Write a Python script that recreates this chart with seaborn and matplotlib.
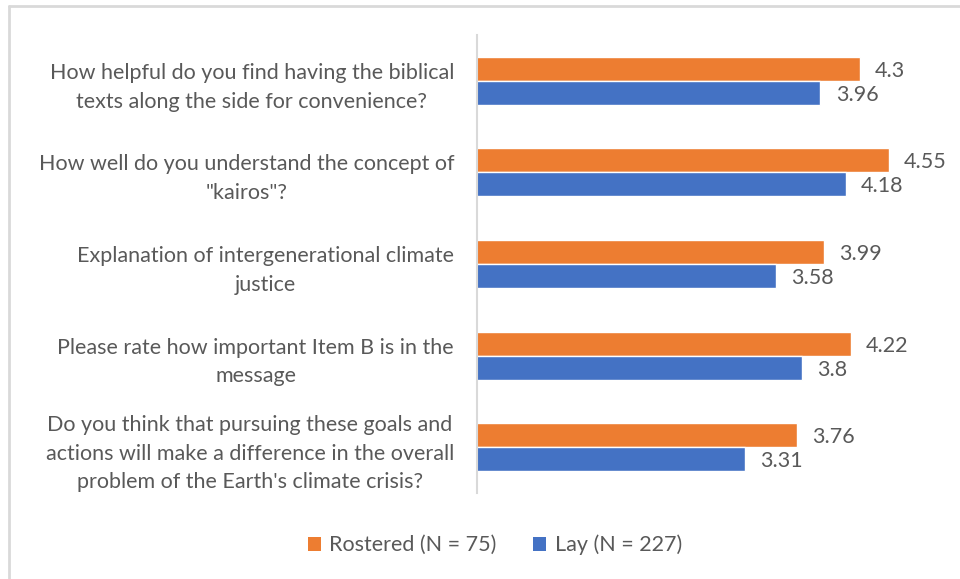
import matplotlib
matplotlib.use("Agg")
import matplotlib.pyplot as plt
from matplotlib.lines import Line2D
from matplotlib.patches import Patch
import seaborn as sns
import pandas as pd

questions = [
    "How helpful do you find having the biblical\ntexts along the side for convenience?",
    "How well do you understand the concept of\n\"kairos\"?",
    "Explanation of intergenerational climate\njustice",
    "Please rate how important Item B is in the\nmessage",
    "Do you think that pursuing these goals and\nactions will make a difference in the overall\nproblem of the Earth's climate crisis?",
]
rostered = [4.3, 4.55, 3.99, 4.22, 3.76]
lay = [3.96, 4.18, 3.58, 3.8, 3.31]
groups = ["Rostered (N = 75)", "Lay (N = 227)"]
colors = ["#ED7D31", "#4472C4"]

df = pd.DataFrame({
    "question": questions * 2,
    "score": rostered + lay,
    "group": [groups[0]] * len(questions) + [groups[1]] * len(questions),
})

sns.set_theme(style="white")
plt.rcParams["font.family"] = ["Lato", "DejaVu Sans"]
text_color = "#595959"
fs = 15.5

W, H = 960, 579
fig = plt.figure(figsize=(W / 100, H / 100), dpi=100)
fig.patch.set_facecolor("white")

# plot area in pixel coordinates
left, right, top, bottom = 477, 941, 35, 493
ax = fig.add_axes([left / W, 1 - bottom / H, (right - left) / W, (bottom - top) / H])

sns.barplot(data=df, y="question", x="score", hue="group", order=questions,
            hue_order=groups, palette=colors, width=0.524, gap=0, orient="h",
            saturation=1, legend=False, ax=ax)

ax.set_xlim(1, 5)
ax.set_xlabel("")
ax.set_ylabel("")
ax.set_xticks([])
for s in ["top", "right", "bottom"]:
    ax.spines[s].set_visible(False)
ax.spines["left"].set_color("#d9d9d9")
ax.spines["left"].set_linewidth(1.5)

ax.tick_params(axis="y", length=0, pad=16.5)
for lab in ax.get_yticklabels():
    lab.set_multialignment("center")
    lab.set_fontsize(fs)
    lab.set_color(text_color)
    lab.set_linespacing(1.55)

for cont in ax.containers:
    labels = ax.bar_label(cont, fmt="%g", padding=11, fontsize=fs, color=text_color)
    for t in labels:
        t.set_va("center_baseline")

handles = [Patch(facecolor=c, edgecolor="none") for c in colors]
fig.legend(handles, groups, loc="center", bbox_to_anchor=(495 / W, 1 - 545 / H),
           ncol=2, frameon=False, fontsize=fs, labelcolor=text_color,
           handlelength=0.6, handleheight=0.6, handletextpad=0.4, columnspacing=1.7)

# light frame along the top and left edges
fig.add_artist(Line2D([9 / W, 1], [1 - 6 / H, 1 - 6 / H], transform=fig.transFigure,
                      color="#d9d9d9", lw=2))
fig.add_artist(Line2D([9 / W, 9 / W], [0, 1 - 6 / H], transform=fig.transFigure,
                      color="#d9d9d9", lw=2))

fig.savefig("out.png", dpi=100, facecolor="white")
